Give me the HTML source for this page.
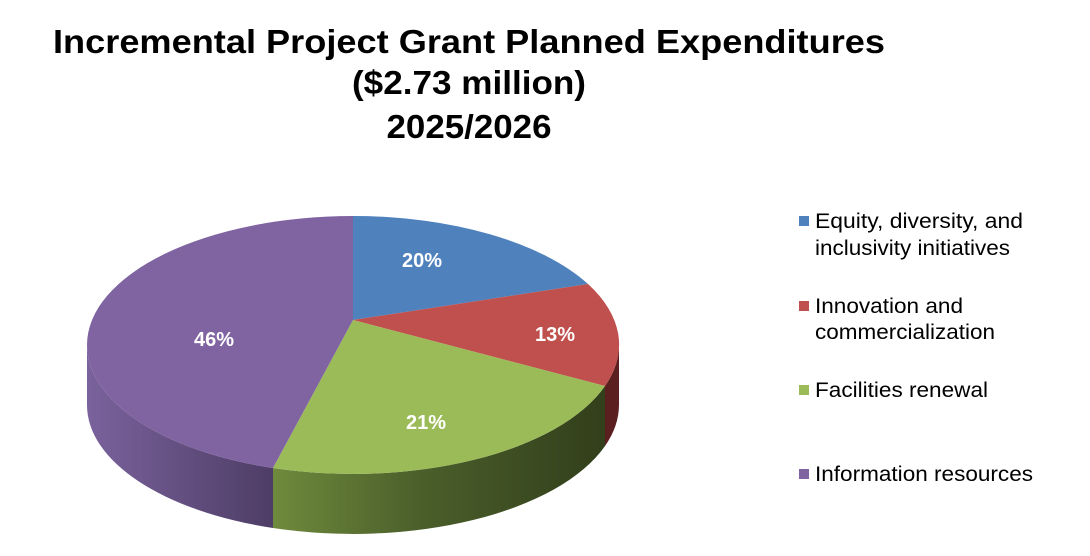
<!DOCTYPE html>
<html><head><meta charset="utf-8"><style>
body{margin:0;background:#fff;}
svg{display:block;font-family:"Liberation Sans",Arial,sans-serif;}
</style></head><body>
<svg width="1090" height="556" viewBox="0 0 1090 556">
<defs>
<linearGradient id="gs" x1="273" y1="0" x2="605" y2="0" gradientUnits="userSpaceOnUse">
<stop offset="0" stop-color="#6f8a3c"/><stop offset="0.45" stop-color="#4a5e2a"/><stop offset="1" stop-color="#323f1b"/></linearGradient>
<linearGradient id="ps" x1="87" y1="0" x2="273" y2="0" gradientUnits="userSpaceOnUse">
<stop offset="0" stop-color="#7a629c"/><stop offset="1" stop-color="#4e3d66"/></linearGradient>
</defs>
<g font-weight="bold" font-size="33" text-anchor="middle" fill="#000" lengthAdjust="spacingAndGlyphs">
<text x="469" y="53" textLength="832" lengthAdjust="spacingAndGlyphs">Incremental Project Grant Planned Expenditures</text>
<text x="469" y="94" textLength="234" lengthAdjust="spacingAndGlyphs">($2.73 million)</text>
<text x="469" y="138" textLength="165" lengthAdjust="spacingAndGlyphs">2025/2026</text>
</g>
<path d="M619 345 A266 129 0 0 1 605 386 L605 446 A266 129 0 0 0 619 405 Z" fill="#5a1f1e"/>
<path d="M605 386 A266 129 0 0 1 273 468 L273 528 A266 129 0 0 0 605 446 Z" fill="url(#gs)"/>
<path d="M273 468 A266 129 0 0 1 87 345 L87 405 A266 129 0 0 0 273 528 Z" fill="url(#ps)"/>
<path d="M353 320 L353 216 A266 129 0 0 1 588 284 Z" fill="#4f81bd"/>
<path d="M353 320 L588 284 A266 129 0 0 1 605 386 Z" fill="#c0504d"/>
<path d="M353 320 L605 386 A266 129 0 0 1 273 468 Z" fill="#9bbb59"/>
<path d="M353 320 L273 468 A266 129 0 0 1 87 345 A266 129 0 0 1 353 216 Z" fill="#8064a2"/>
<g fill="#fff" font-weight="bold" font-size="20" text-anchor="middle">
<text x="422" y="267">20%</text>
<text x="555" y="341">13%</text>
<text x="426" y="429">21%</text>
<text x="214" y="346">46%</text>
</g>
<g font-size="21" fill="#000">
<rect x="799" y="216" width="10" height="10" fill="#4f81bd"/>
<text x="815" y="228" textLength="208" lengthAdjust="spacingAndGlyphs">Equity, diversity, and</text>
<text x="815" y="255" textLength="195" lengthAdjust="spacingAndGlyphs">inclusivity initiatives</text>
<rect x="799" y="301" width="10" height="10" fill="#c0504d"/>
<text x="815" y="313" textLength="148" lengthAdjust="spacingAndGlyphs">Innovation and</text>
<text x="815" y="339" textLength="180" lengthAdjust="spacingAndGlyphs">commercialization</text>
<rect x="799" y="385" width="10" height="10" fill="#9bbb59"/>
<text x="815" y="397" textLength="173" lengthAdjust="spacingAndGlyphs">Facilities renewal</text>
<rect x="799" y="469" width="10" height="10" fill="#8064a2"/>
<text x="815" y="481" textLength="218" lengthAdjust="spacingAndGlyphs">Information resources</text>
</g>
</svg>
</body></html>
